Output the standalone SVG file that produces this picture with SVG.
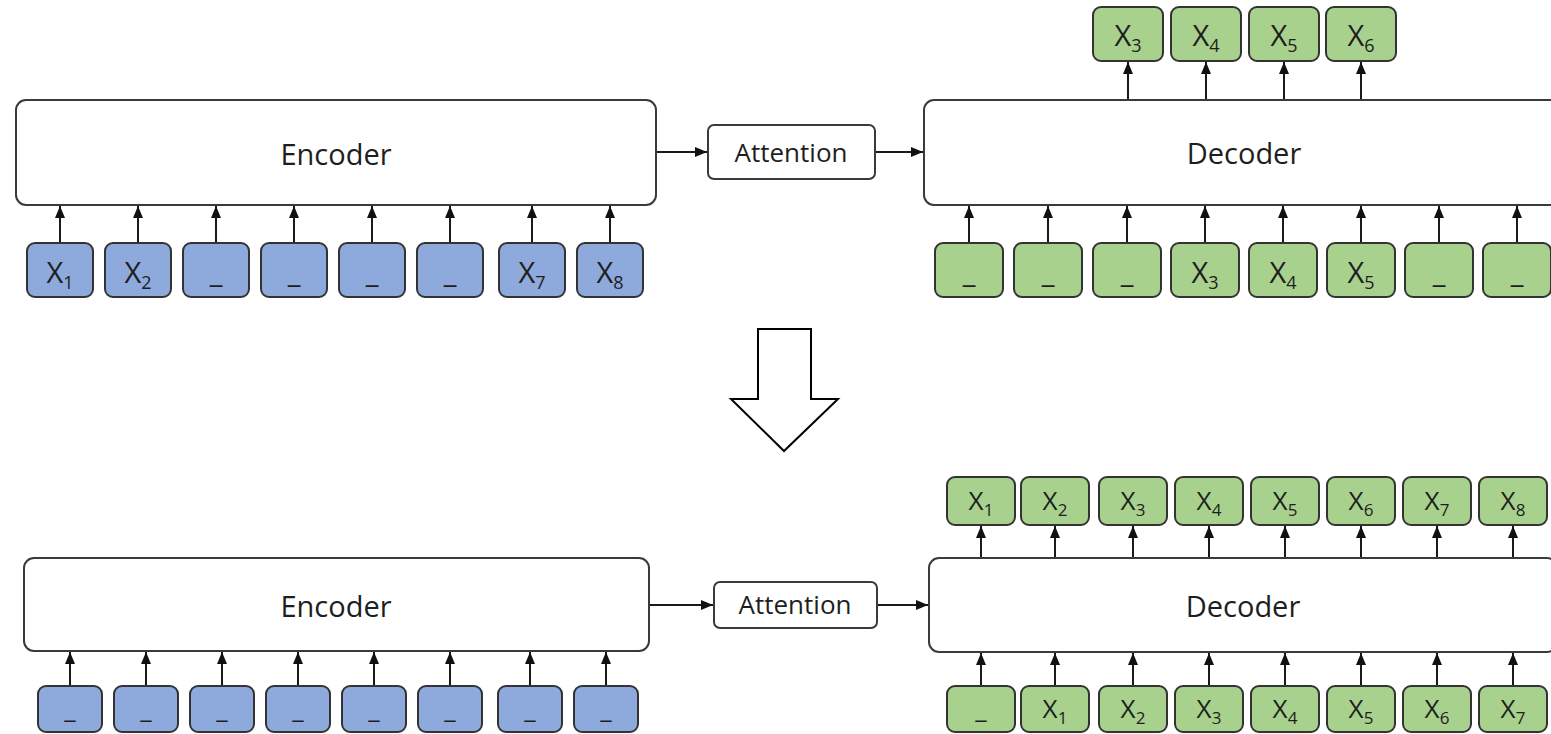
<svg xmlns="http://www.w3.org/2000/svg" width="1551" height="734" viewBox="0 0 1551 734">
<style>
.box{fill:#fff;stroke:#3a3a3a;stroke-width:2}
.tb{fill:#8EA9DB;stroke:#333;stroke-width:2}
.tg{fill:#A9D18E;stroke:#333;stroke-width:2}
.t{font-family:"Open Sans","Liberation Sans",sans-serif;fill:#1e1e1e;text-anchor:middle}
.big{font-size:29px}
.att{font-size:26px}
.tk{font-size:29px}
.tk2{font-size:26px}
.sub{font-size:18px}
.sub2{font-size:17px}
.ln{stroke:#1a1a1a;stroke-width:2;fill:none;marker-end:url(#ah)}
</style>
<defs>
<marker id="ah" markerUnits="userSpaceOnUse" markerWidth="13" markerHeight="11" refX="12" refY="5.5" orient="auto">
<path d="M0,0.5 L12,5.5 L0,10.5 z" fill="#111"/>
</marker>
</defs>
<rect width="1551" height="734" fill="#fff"/>

<!-- TOP HALF -->
<g id="enc1"><rect class="box" x="16" y="100" width="640" height="105" rx="10"/><text class="t big" x="336" y="165">Encoder</text></g>
<g id="att1"><rect class="box" x="708" y="125" width="167" height="54" rx="6"/><text class="t att" x="791" y="162">Attention</text></g>
<g id="dec1"><rect class="box" x="924" y="100" width="640" height="105" rx="10"/><text class="t big" x="1244" y="164">Decoder</text></g>

<g id="e1t1"><rect class="tb" x="27" y="243" width="66" height="54" rx="8"/><text class="t tk" x="60" y="283">X<tspan class="sub" dy="6">1</tspan></text></g>
<g id="e1t2"><rect class="tb" x="105" y="243" width="66" height="54" rx="8"/><text class="t tk" x="138" y="283">X<tspan class="sub" dy="6">2</tspan></text></g>
<g id="e1t3"><rect class="tb" x="183" y="243" width="66" height="54" rx="8"/><text class="t tk" x="216" y="283">_</text></g>
<g id="e1t4"><rect class="tb" x="261" y="243" width="66" height="54" rx="8"/><text class="t tk" x="294" y="283">_</text></g>
<g id="e1t5"><rect class="tb" x="339" y="243" width="66" height="54" rx="8"/><text class="t tk" x="372" y="283">_</text></g>
<g id="e1t6"><rect class="tb" x="417" y="243" width="66" height="54" rx="8"/><text class="t tk" x="450" y="283">_</text></g>
<g id="e1t7"><rect class="tb" x="499" y="243" width="66" height="54" rx="8"/><text class="t tk" x="532" y="283">X<tspan class="sub" dy="6">7</tspan></text></g>
<g id="e1t8"><rect class="tb" x="577" y="243" width="66" height="54" rx="8"/><text class="t tk" x="610" y="283">X<tspan class="sub" dy="6">8</tspan></text></g>

<g id="d1i1"><rect class="tg" x="935" y="243" width="68" height="54" rx="8"/><text class="t tk" x="969" y="283">_</text></g>
<g id="d1i2"><rect class="tg" x="1014" y="243" width="68" height="54" rx="8"/><text class="t tk" x="1048" y="283">_</text></g>
<g id="d1i3"><rect class="tg" x="1093" y="243" width="68" height="54" rx="8"/><text class="t tk" x="1127" y="283">_</text></g>
<g id="d1i4"><rect class="tg" x="1171" y="243" width="68" height="54" rx="8"/><text class="t tk" x="1205" y="283">X<tspan class="sub" dy="6">3</tspan></text></g>
<g id="d1i5"><rect class="tg" x="1249" y="243" width="68" height="54" rx="8"/><text class="t tk" x="1283" y="283">X<tspan class="sub" dy="6">4</tspan></text></g>
<g id="d1i6"><rect class="tg" x="1327" y="243" width="68" height="54" rx="8"/><text class="t tk" x="1361" y="283">X<tspan class="sub" dy="6">5</tspan></text></g>
<g id="d1i7"><rect class="tg" x="1405" y="243" width="68" height="54" rx="8"/><text class="t tk" x="1439" y="283">_</text></g>
<g id="d1i8"><rect class="tg" x="1483" y="243" width="68" height="54" rx="8"/><text class="t tk" x="1517" y="283">_</text></g>

<g id="d1o1"><rect class="tg" x="1093" y="7" width="70" height="54" rx="8"/><text class="t tk" x="1128" y="46">X<tspan class="sub" dy="6">3</tspan></text></g>
<g id="d1o2"><rect class="tg" x="1171" y="7" width="70" height="54" rx="8"/><text class="t tk" x="1206" y="46">X<tspan class="sub" dy="6">4</tspan></text></g>
<g id="d1o3"><rect class="tg" x="1249" y="7" width="70" height="54" rx="8"/><text class="t tk" x="1284" y="46">X<tspan class="sub" dy="6">5</tspan></text></g>
<g id="d1o4"><rect class="tg" x="1326" y="7" width="70" height="54" rx="8"/><text class="t tk" x="1361" y="46">X<tspan class="sub" dy="6">6</tspan></text></g>

<!-- big arrow -->
<g id="bigarrow"><path d="M758,329 L811,329 L811,399 L838,399 L784,451 L731,399 L758,399 Z" fill="#fff" stroke="#000" stroke-width="2" stroke-linejoin="miter"/></g>

<!-- BOTTOM HALF -->
<g id="enc2"><rect class="box" x="24" y="558" width="625" height="93" rx="10"/><text class="t big" x="336" y="617">Encoder</text></g>
<g id="att2"><rect class="box" x="714" y="582" width="163" height="46" rx="6"/><text class="t att" x="795" y="614">Attention</text></g>
<g id="dec2"><rect class="box" x="929" y="558" width="628" height="94" rx="10"/><text class="t big" x="1243" y="617">Decoder</text></g>

<g id="e2t1"><rect class="tb" x="38" y="686" width="64" height="46" rx="8"/><text class="t tk2" x="70" y="718">_</text></g>
<g id="e2t2"><rect class="tb" x="114" y="686" width="64" height="46" rx="8"/><text class="t tk2" x="146" y="718">_</text></g>
<g id="e2t3"><rect class="tb" x="190" y="686" width="64" height="46" rx="8"/><text class="t tk2" x="222" y="718">_</text></g>
<g id="e2t4"><rect class="tb" x="266" y="686" width="64" height="46" rx="8"/><text class="t tk2" x="298" y="718">_</text></g>
<g id="e2t5"><rect class="tb" x="342" y="686" width="64" height="46" rx="8"/><text class="t tk2" x="374" y="718">_</text></g>
<g id="e2t6"><rect class="tb" x="418" y="686" width="64" height="46" rx="8"/><text class="t tk2" x="450" y="718">_</text></g>
<g id="e2t7"><rect class="tb" x="498" y="686" width="64" height="46" rx="8"/><text class="t tk2" x="530" y="718">_</text></g>
<g id="e2t8"><rect class="tb" x="574" y="686" width="64" height="46" rx="8"/><text class="t tk2" x="606" y="718">_</text></g>

<g id="d2o1"><rect class="tg" x="947" y="477" width="68" height="48" rx="8"/><text class="t tk2" x="981" y="510">X<tspan class="sub2" dy="6">1</tspan></text></g>
<g id="d2o2"><rect class="tg" x="1021" y="477" width="68" height="48" rx="8"/><text class="t tk2" x="1055" y="510">X<tspan class="sub2" dy="6">2</tspan></text></g>
<g id="d2o3"><rect class="tg" x="1099" y="477" width="68" height="48" rx="8"/><text class="t tk2" x="1133" y="510">X<tspan class="sub2" dy="6">3</tspan></text></g>
<g id="d2o4"><rect class="tg" x="1175" y="477" width="68" height="48" rx="8"/><text class="t tk2" x="1209" y="510">X<tspan class="sub2" dy="6">4</tspan></text></g>
<g id="d2o5"><rect class="tg" x="1251" y="477" width="68" height="48" rx="8"/><text class="t tk2" x="1285" y="510">X<tspan class="sub2" dy="6">5</tspan></text></g>
<g id="d2o6"><rect class="tg" x="1327" y="477" width="68" height="48" rx="8"/><text class="t tk2" x="1361" y="510">X<tspan class="sub2" dy="6">6</tspan></text></g>
<g id="d2o7"><rect class="tg" x="1403" y="477" width="68" height="48" rx="8"/><text class="t tk2" x="1437" y="510">X<tspan class="sub2" dy="6">7</tspan></text></g>
<g id="d2o8"><rect class="tg" x="1479" y="477" width="68" height="48" rx="8"/><text class="t tk2" x="1513" y="510">X<tspan class="sub2" dy="6">8</tspan></text></g>

<g id="d2i1"><rect class="tg" x="947" y="686" width="68" height="46" rx="8"/><text class="t tk2" x="981" y="718">_</text></g>
<g id="d2i2"><rect class="tg" x="1021" y="686" width="68" height="46" rx="8"/><text class="t tk2" x="1055" y="718">X<tspan class="sub2" dy="6">1</tspan></text></g>
<g id="d2i3"><rect class="tg" x="1099" y="686" width="68" height="46" rx="8"/><text class="t tk2" x="1133" y="718">X<tspan class="sub2" dy="6">2</tspan></text></g>
<g id="d2i4"><rect class="tg" x="1175" y="686" width="68" height="46" rx="8"/><text class="t tk2" x="1209" y="718">X<tspan class="sub2" dy="6">3</tspan></text></g>
<g id="d2i5"><rect class="tg" x="1251" y="686" width="68" height="46" rx="8"/><text class="t tk2" x="1285" y="718">X<tspan class="sub2" dy="6">4</tspan></text></g>
<g id="d2i6"><rect class="tg" x="1327" y="686" width="68" height="46" rx="8"/><text class="t tk2" x="1361" y="718">X<tspan class="sub2" dy="6">5</tspan></text></g>
<g id="d2i7"><rect class="tg" x="1403" y="686" width="68" height="46" rx="8"/><text class="t tk2" x="1437" y="718">X<tspan class="sub2" dy="6">6</tspan></text></g>
<g id="d2i8"><rect class="tg" x="1479" y="686" width="68" height="46" rx="8"/><text class="t tk2" x="1513" y="718">X<tspan class="sub2" dy="6">7</tspan></text></g>

<g id="connectors">
<line class="ln" x1="657" y1="152" x2="707" y2="152"/>
<line class="ln" x1="876" y1="152" x2="923" y2="152"/>
<line class="ln" x1="60" y1="242" x2="60" y2="206"/>
<line class="ln" x1="138" y1="242" x2="138" y2="206"/>
<line class="ln" x1="216" y1="242" x2="216" y2="206"/>
<line class="ln" x1="294" y1="242" x2="294" y2="206"/>
<line class="ln" x1="372" y1="242" x2="372" y2="206"/>
<line class="ln" x1="450" y1="242" x2="450" y2="206"/>
<line class="ln" x1="532" y1="242" x2="532" y2="206"/>
<line class="ln" x1="610" y1="242" x2="610" y2="206"/>
<line class="ln" x1="969" y1="242" x2="969" y2="206"/>
<line class="ln" x1="1048" y1="242" x2="1048" y2="206"/>
<line class="ln" x1="1127" y1="242" x2="1127" y2="206"/>
<line class="ln" x1="1205" y1="242" x2="1205" y2="206"/>
<line class="ln" x1="1283" y1="242" x2="1283" y2="206"/>
<line class="ln" x1="1361" y1="242" x2="1361" y2="206"/>
<line class="ln" x1="1439" y1="242" x2="1439" y2="206"/>
<line class="ln" x1="1517" y1="242" x2="1517" y2="206"/>
<line class="ln" x1="1128" y1="99" x2="1128" y2="62"/>
<line class="ln" x1="1206" y1="99" x2="1206" y2="62"/>
<line class="ln" x1="1284" y1="99" x2="1284" y2="62"/>
<line class="ln" x1="1361" y1="99" x2="1361" y2="62"/>
<line class="ln" x1="650" y1="605" x2="713" y2="605"/>
<line class="ln" x1="878" y1="605" x2="928" y2="605"/>
<line class="ln" x1="70" y1="685" x2="70" y2="652"/>
<line class="ln" x1="146" y1="685" x2="146" y2="652"/>
<line class="ln" x1="222" y1="685" x2="222" y2="652"/>
<line class="ln" x1="298" y1="685" x2="298" y2="652"/>
<line class="ln" x1="374" y1="685" x2="374" y2="652"/>
<line class="ln" x1="450" y1="685" x2="450" y2="652"/>
<line class="ln" x1="530" y1="685" x2="530" y2="652"/>
<line class="ln" x1="606" y1="685" x2="606" y2="652"/>
<line class="ln" x1="981" y1="685" x2="981" y2="653"/>
<line class="ln" x1="1055" y1="685" x2="1055" y2="653"/>
<line class="ln" x1="1133" y1="685" x2="1133" y2="653"/>
<line class="ln" x1="1209" y1="685" x2="1209" y2="653"/>
<line class="ln" x1="1285" y1="685" x2="1285" y2="653"/>
<line class="ln" x1="1361" y1="685" x2="1361" y2="653"/>
<line class="ln" x1="1437" y1="685" x2="1437" y2="653"/>
<line class="ln" x1="1513" y1="685" x2="1513" y2="653"/>
<line class="ln" x1="981" y1="557" x2="981" y2="526"/>
<line class="ln" x1="1055" y1="557" x2="1055" y2="526"/>
<line class="ln" x1="1133" y1="557" x2="1133" y2="526"/>
<line class="ln" x1="1209" y1="557" x2="1209" y2="526"/>
<line class="ln" x1="1285" y1="557" x2="1285" y2="526"/>
<line class="ln" x1="1361" y1="557" x2="1361" y2="526"/>
<line class="ln" x1="1437" y1="557" x2="1437" y2="526"/>
<line class="ln" x1="1513" y1="557" x2="1513" y2="526"/>
</g>
</svg>
